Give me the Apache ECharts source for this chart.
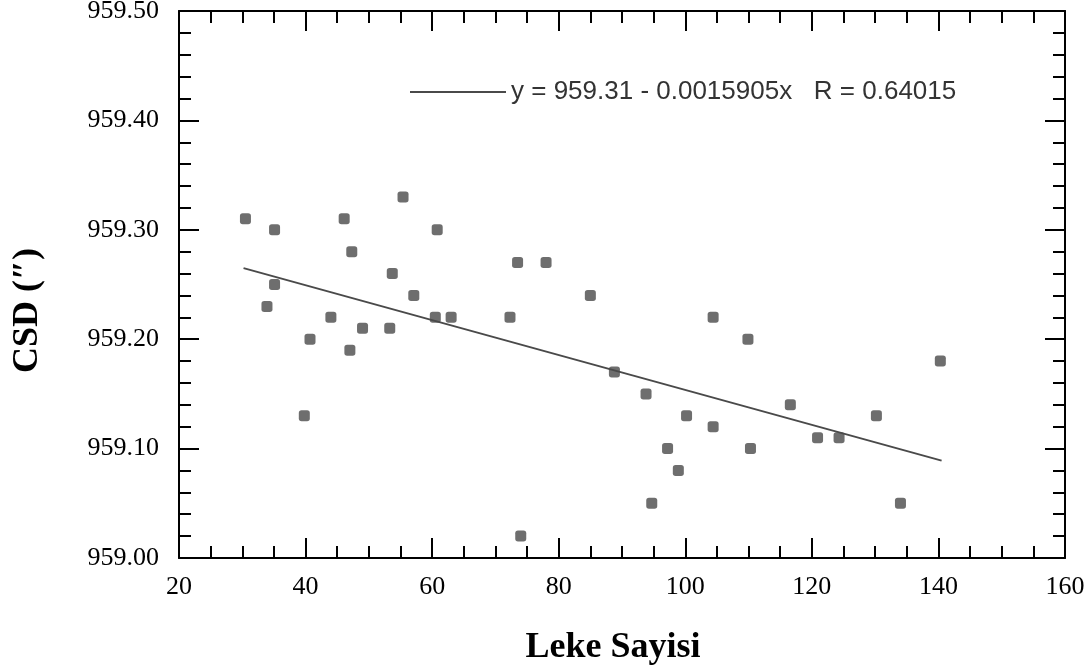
<!DOCTYPE html>
<html>
<head>
<meta charset="utf-8">
<script src="https://cdn.jsdelivr.net/npm/echarts@6/dist/echarts.min.js"></script>
<style>html,body{margin:0;padding:0;background:#fff;}#c{width:1092px;height:672px;}</style>
</head>
<body>
<div id="c"></div>
<script>
// Data
var lekeSayisi = [30.5, 35.1, 46.1, 55.4, 60.8, 47.3, 53.7, 35.1, 57.1, 33.9, 44.0, 60.5, 63.0, 49.0, 53.3, 40.7, 47.0, 39.8,
                  73.5, 78.0, 85.0, 72.3, 104.4, 109.9, 88.8, 93.8, 100.2, 104.4, 97.2, 110.3, 98.9, 94.7, 74.0,
                  116.6, 120.9, 124.3, 130.2, 140.3, 134.0];
var csd = [959.31, 959.30, 959.31, 959.33, 959.30, 959.28, 959.26, 959.25, 959.24, 959.23, 959.22, 959.22, 959.22, 959.21, 959.21, 959.20, 959.19, 959.13,
           959.27, 959.27, 959.24, 959.22, 959.22, 959.20, 959.17, 959.15, 959.13, 959.12, 959.10, 959.10, 959.08, 959.05, 959.02,
           959.14, 959.11, 959.11, 959.13, 959.18, 959.05];
var fitX = [30.2, 140.5];
var fitY = [959.265, 959.089];
var fitLabel = 'y = 959.31 - 0.0015905x   R = 0.64015';
var xTitle = 'Leke Sayisi';
var yTitle = 'CSD (\u2033)';

var points = lekeSayisi.map(function (x, i) { return [x, csd[i]]; });
var fitLine = fitX.map(function (x, i) { return [x, fitY[i]]; });

var serif = '"Liberation Serif", "DejaVu Serif", serif';
var axisCol = '#000';

function frameAxis(extra) {
  var base = {
    axisLine: { show: true, onZero: false, lineStyle: { color: axisCol, width: 2 } },
    axisTick: { show: true, inside: true, length: 20, lineStyle: { color: axisCol, width: 2 } },
    minorTick: { show: true, length: 12, lineStyle: { color: axisCol, width: 2 } },
    splitLine: { show: false },
    minorSplitLine: { show: false }
  };
  for (var k in extra) base[k] = extra[k];
  return base;
}

var chart = echarts.init(document.getElementById('c'), null, { renderer: 'canvas' });
chart.setOption({
  backgroundColor: '#fff',
  animation: false,
  grid: { left: 179, right: 27, top: 11, bottom: 114, containLabel: false, outerBoundsMode: 'none' },
  legend: {
    data: [fitLabel],
    left: 405, top: 74,
    itemWidth: 96, itemHeight: 2, icon: 'rect',
    textStyle: { fontFamily: '"Liberation Sans", Arial, sans-serif', fontSize: 26, color: '#333' }
  },
  xAxis: [
    frameAxis({
      type: 'value', position: 'bottom', min: 20, max: 160, interval: 20,
      minorTick: { show: true, splitNumber: 4, length: 12, lineStyle: { color: axisCol, width: 2 } },
      axisLabel: { margin: 16, fontFamily: serif, fontSize: 26, color: '#000' },
      name: xTitle, nameLocation: 'middle', nameGap: 72,
      nameTextStyle: { fontFamily: serif, fontSize: 36, fontWeight: 'bold', color: '#000', padding: [0, 18, 0, 0] }
    }),
    frameAxis({
      type: 'value', position: 'top', min: 20, max: 160, interval: 20,
      minorTick: { show: true, splitNumber: 4, length: 12, lineStyle: { color: axisCol, width: 2 } },
      axisLabel: { show: false }
    })
  ],
  yAxis: [
    frameAxis({
      type: 'value', position: 'left', min: 959, max: 959.5, interval: 0.1,
      minorTick: { show: true, splitNumber: 5, length: 12, lineStyle: { color: axisCol, width: 2 } },
      axisLabel: { margin: 20, fontFamily: serif, fontSize: 26, color: '#000',
        formatter: function (v) { return v.toFixed(2); } },
      name: yTitle, nameLocation: 'middle', nameGap: 133, nameRotate: 90,
      nameTextStyle: { fontFamily: serif, fontSize: 36, fontWeight: 'bold', color: '#000', padding: [0, 52, 0, 0] }
    }),
    frameAxis({
      type: 'value', position: 'right', min: 959, max: 959.5, interval: 0.1,
      minorTick: { show: true, splitNumber: 5, length: 12, lineStyle: { color: axisCol, width: 2 } },
      axisLabel: { show: false }
    })
  ],
  series: [
    {
      type: 'scatter', name: 'data', xAxisIndex: 0, yAxisIndex: 0,
      data: points, symbol: 'roundRect', symbolSize: 11,
      itemStyle: { color: '#4a4a4a' }
    },
    {
      type: 'line', name: fitLabel, xAxisIndex: 0, yAxisIndex: 0,
      data: fitLine, showSymbol: false, symbol: 'none',
      lineStyle: { color: '#4a4a4a', width: 2 }, itemStyle: { color: '#4a4a4a' }
    }
  ]
});
</script>
</body>
</html>
